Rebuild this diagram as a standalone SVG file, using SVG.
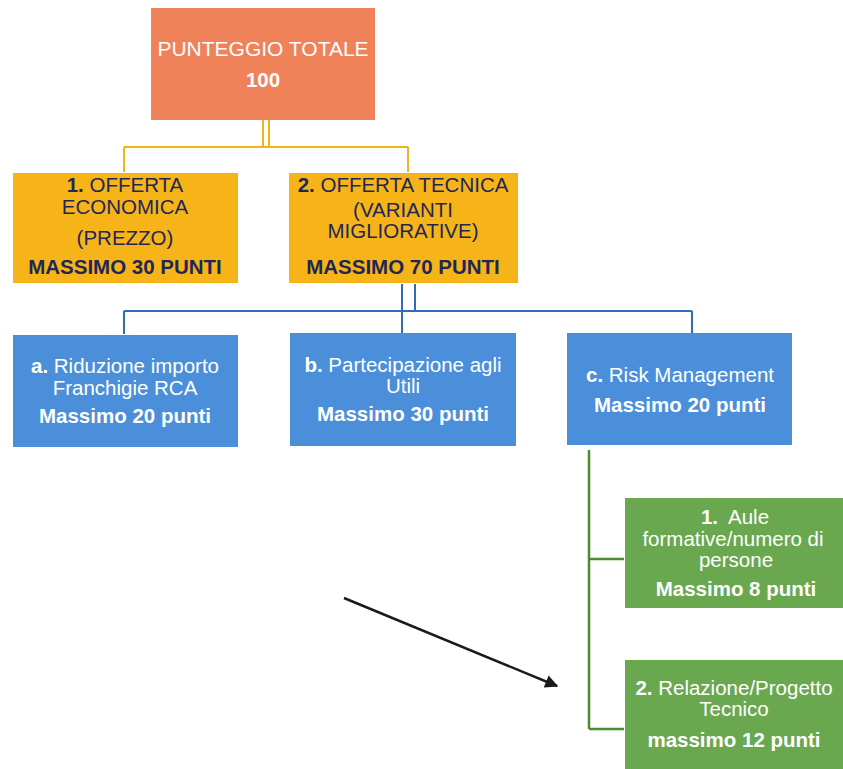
<svg xmlns="http://www.w3.org/2000/svg" width="843" height="769" viewBox="0 0 843 769">
<style>
text{font-family:"Liberation Sans",Arial,sans-serif;font-size:20.5px;text-anchor:middle}
.w{fill:#ffffff}
.n{fill:#1f2757}
.b{font-weight:bold}
.y{fill:none;stroke:#f2b316;stroke-width:2}
.bl{fill:none;stroke:#2f6db5;stroke-width:2}
.g{fill:none;stroke:#4e8a2e;stroke-width:2.5}
</style>
<defs>
<marker id="ah" viewBox="0 0 10 10" refX="9" refY="5" markerWidth="16" markerHeight="13" markerUnits="userSpaceOnUse" orient="auto">
<path d="M0,0 L10,5 L0,10 z" fill="#1a1a1a"/>
</marker>
</defs>
<rect width="843" height="769" fill="#ffffff"/>
<g id="connectors">
<path class="y" d="M263,120 V146 M269,120 V146 M124,147 H408 M124,147 V172 M408,147 V172"/>
<path class="bl" d="M402,284 V333 M415,284 V310 M124,311 H692 M124,311 V334 M692,311 V333"/>
<path class="g" d="M589,450 V729 M589,559 H624 M589,729 H624"/>
<line x1="344" y1="598" x2="557" y2="686" stroke="#1a1a1a" stroke-width="2.5" marker-end="url(#ah)"/>
</g>
<g id="total">
<rect x="151" y="8" width="224" height="112" fill="#f0825a"/>
<text x="263" y="56" class="w" style="font-size:21px">PUNTEGGIO TOTALE</text>
<text x="263" y="87" class="w b">100</text>
</g>
<g id="economica">
<rect x="13" y="173" width="225" height="110" fill="#f6b419"/>
<text x="125" y="192" class="n"><tspan class="b">1.</tspan> OFFERTA</text>
<text x="125" y="214" class="n">ECONOMICA</text>
<text x="125" y="245" class="n">(PREZZO)</text>
<text x="125" y="274" class="n b">MASSIMO 30 PUNTI</text>
</g>
<g id="tecnica">
<rect x="289" y="173" width="229" height="110" fill="#f6b419"/>
<text x="403" y="192" class="n"><tspan class="b">2.</tspan> OFFERTA TECNICA</text>
<text x="403" y="217" class="n">(VARIANTI</text>
<text x="403" y="238" class="n">MIGLIORATIVE)</text>
<text x="403" y="274" class="n b">MASSIMO 70 PUNTI</text>
</g>
<g id="riduzione">
<rect x="13" y="335" width="225" height="112" fill="#4b8fda"/>
<text x="125" y="373" class="w"><tspan class="b">a.</tspan> Riduzione importo</text>
<text x="125" y="395" class="w">Franchigie RCA</text>
<text x="125" y="423" class="w b">Massimo 20 punti</text>
</g>
<g id="partecipazione">
<rect x="290" y="333" width="226" height="113" fill="#4b8fda"/>
<text x="403" y="372" class="w"><tspan class="b">b.</tspan> Partecipazione agli</text>
<text x="403" y="393" class="w">Utili</text>
<text x="403" y="421" class="w b">Massimo 30 punti</text>
</g>
<g id="risk">
<rect x="567" y="333" width="225" height="112" fill="#4b8fda"/>
<text x="680" y="382" class="w"><tspan class="b">c.</tspan> Risk Management</text>
<text x="680" y="412" class="w b">Massimo 20 punti</text>
</g>
<g id="aule">
<rect x="625" y="498" width="220" height="110" fill="#6aa84f"/>
<text x="735" y="524" class="w"><tspan class="b">1.</tspan><tspan dx="10">Aule</tspan></text>
<text x="733" y="546" class="w">formative/numero di</text>
<text x="736" y="567" class="w">persone</text>
<text x="736" y="596" class="w b">Massimo 8 punti</text>
</g>
<g id="relazione">
<rect x="625" y="660" width="220" height="109" fill="#6aa84f"/>
<text x="734" y="695" class="w"><tspan class="b">2.</tspan> Relazione/Progetto</text>
<text x="734" y="716" class="w">Tecnico</text>
<text x="734" y="747" class="w b">massimo 12 punti</text>
</g>
</svg>
